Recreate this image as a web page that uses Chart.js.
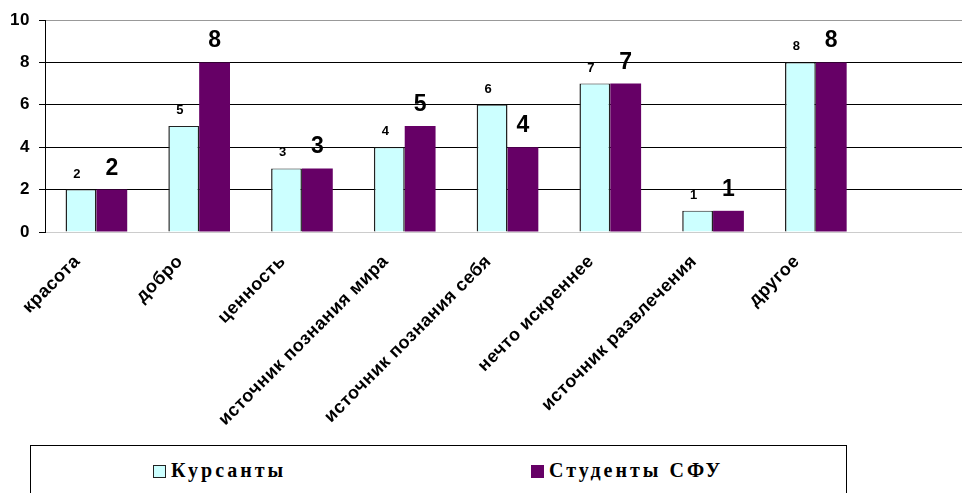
<!DOCTYPE html>
<html>
<head>
<meta charset="utf-8">
<script src="https://cdn.jsdelivr.net/npm/chart.js@4.4.1/dist/chart.umd.min.js"></script>
<style>
  html, body { margin: 0; padding: 0; background: #fff; overflow: hidden; }
  body { width: 962px; height: 493px; position: relative; }
  #wrap { position: absolute; left: 0; top: 0; width: 970px; height: 440px; }
  #legend {
    position: absolute; left: 30px; top: 445px; width: 817px; height: 70px;
    border: 1.5px solid #000; box-sizing: border-box;
    font-family: "Liberation Serif", "Times New Roman", serif; font-weight: bold;
    font-size: 20px; letter-spacing: 3px; color: #000;
  }
  .item { position: absolute; top: 13px; white-space: nowrap; }
  .box { display: inline-block; width: 13px; height: 13px; box-sizing: border-box; vertical-align: -1px; margin-right: 5px; }
</style>
</head>
<body>
<div id="wrap"><canvas id="myChart"></canvas></div>
<div id="legend"></div>
<script>
// данные из рисунка
const categories = ['красота', 'добро', 'ценность', 'источник познания мира', 'источник познания себя',
  'нечто искреннее', 'источник развлечения', 'другое', ''];
const kursanty = [2, 5, 3, 4, 6, 7, 1, 8, null];
const studentySFU = [2, 8, 3, 5, 4, 7, 1, 8, null];
const seriesNames = ['Курсанты', 'Студенты СФУ'];
const yTicks = [0, 2, 4, 6, 8, 10];

const colors = ['#CCFFFF', '#660066'];

// подписи значений над столбцами
const valueLabels = {
  id: 'valueLabels',
  beforeDraw(chart) {
    // чуть разреженный шрифт подписей оси X, как в оригинале
    chart.ctx.letterSpacing = '0.5px';
  },
  beforeDatasetsDraw(chart) {
    chart.ctx.letterSpacing = '0px';
  },
  afterDatasetsDraw(chart) {
    const ctx = chart.ctx;
    const styles = [
      { font: 'bold 13px Arial, "Liberation Sans"', dx: -4, dy: 12 },
      { font: 'bold 23px Arial, "Liberation Sans"', dx: 0, dy: 15 }
    ];
    chart.data.datasets.forEach((ds, i) => {
      const meta = chart.getDatasetMeta(i);
      const st = styles[i];
      ctx.save();
      ctx.font = st.font;
      ctx.fillStyle = '#000';
      ctx.textAlign = 'center';
      ctx.textBaseline = 'alphabetic';
      meta.data.forEach((bar, j) => {
        const v = ds.data[j];
        if (v === null) return;
        ctx.fillText(String(v), bar.x + st.dx, bar.y - st.dy);
      });
      ctx.restore();
    });
  }
};

const ctx = document.getElementById('myChart').getContext('2d');
const chart = new Chart(ctx, {
  type: 'bar',
  data: {
    labels: categories,
    datasets: [{
      label: seriesNames[0],
      data: kursanty,
      backgroundColor: colors[0],
      borderColor: '#222',
      borderWidth: { top: 1, left: 1.5, right: 1.5, bottom: 0 },
      borderSkipped: false
    }, {
      label: seriesNames[1],
      data: studentySFU,
      backgroundColor: colors[1],
      borderWidth: 0
    }]
  },
  options: {
    responsive: true,
    maintainAspectRatio: false,
    animation: false,
    layout: { padding: { top: 20, left: 0, right: 0, bottom: 0 } },
    plugins: {
      legend: { display: false },
      tooltip: { enabled: false }
    },
    datasets: { bar: { categoryPercentage: 0.6, barPercentage: 1 } },
    scales: {
      x: {
        grid: { display: false },
        border: { color: '#ccc', width: 1 },
        ticks: {
          autoSkip: false,
          maxRotation: 45,
          minRotation: 45,
          labelOffset: -19,
          padding: 11,
          color: '#000',
          font: { family: 'Arial, "Liberation Sans"', size: 18, weight: 'bold' }
        },
        afterFit(axis) { axis.height = 440 - 232; }
      },
      y: {
        min: 0,
        max: 10,
        afterBuildTicks(axis) { axis.ticks = yTicks.map(v => ({ value: v })); },
        grid: {
          color: c => c.tick.value === 10 ? '#999' : (c.tick.value === 0 ? '#ccc' : '#000'),
          tickColor: '#000',
          tickLength: 6,
          lineWidth: 1
        },
        border: { color: '#000', width: 1 },
        ticks: {
          padding: 9,
          color: '#000',
          font: { family: 'Arial, "Liberation Sans"', size: 17, weight: 'bold' }
        },
        afterFit(axis) { axis.width = 45; }
      }
    }
  },
  plugins: [valueLabels]
});

// легенда в рамке
const legend = document.getElementById('legend');
const itemLeft = [122, 500];
chart.data.datasets.forEach((ds, i) => {
  const item = document.createElement('div');
  item.className = 'item';
  item.style.left = itemLeft[i] + 'px';
  const box = document.createElement('span');
  box.className = 'box';
  box.style.background = ds.backgroundColor;
  box.style.border = i === 0 ? '1.5px solid #222' : 'none';
  item.appendChild(box);
  item.appendChild(document.createTextNode(ds.label));
  legend.appendChild(item);
});
</script>
</body>
</html>
